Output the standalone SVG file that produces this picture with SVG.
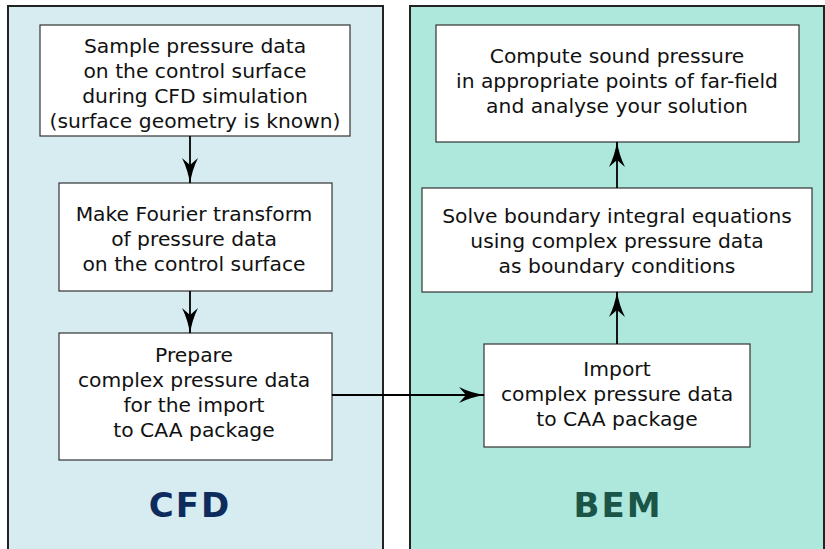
<svg xmlns="http://www.w3.org/2000/svg" width="825" height="549" viewBox="0 0 825 549">
<defs>
<style>
.panel{stroke:#222;stroke-width:2}
.box{fill:#fff;stroke:#333;stroke-width:1.2}
.t{font-family:"DejaVu Sans",sans-serif;font-size:20.3px;fill:#111;text-anchor:middle}
.lbl{font-family:"DejaVu Sans",sans-serif;font-weight:bold;font-size:34px;text-anchor:middle;letter-spacing:2px}
.c{stroke:#000;stroke-width:1.8;fill:none;marker-end:url(#ah)}
</style>
<marker id="ah" markerWidth="26" markerHeight="16" refX="25" refY="8" orient="auto" markerUnits="userSpaceOnUse">
<path d="M0,0 Q12,6 26,8 Q12,10 0,16 L7,8 Z" fill="#000"/>
</marker>
</defs>
<rect width="825" height="549" fill="#fff"/>
<g id="panel-cfd">
<rect class="panel" x="8" y="6" width="375" height="560" fill="#d6ecf1"/>
<text class="lbl" x="190" y="517" fill="#0d2b5c">CFD</text>
</g>
<g id="panel-bem">
<rect class="panel" x="410" y="6" width="414" height="560" fill="#aee7dc"/>
<text class="lbl" x="618" y="517" fill="#1a5548">BEM</text>
</g>
<g id="n1">
<rect class="box" x="40" y="25" width="310" height="111"/>
<text class="t" x="195" y="53">Sample pressure data</text>
<text class="t" x="195" y="78">on the control surface</text>
<text class="t" x="195" y="103">during CFD simulation</text>
<text class="t" x="195" y="128">(surface geometry is known)</text>
</g>
<g id="n2">
<rect class="box" x="59" y="183" width="273" height="108"/>
<text class="t" x="194" y="221">Make Fourier transform</text>
<text class="t" x="194" y="246">of pressure data</text>
<text class="t" x="194" y="271">on the control surface</text>
</g>
<g id="n3">
<rect class="box" x="59" y="333" width="273" height="127"/>
<text class="t" x="194" y="362">Prepare</text>
<text class="t" x="194" y="387">complex pressure data</text>
<text class="t" x="194" y="412">for the import</text>
<text class="t" x="194" y="437">to CAA package</text>
</g>
<g id="n4">
<rect class="box" x="484" y="344" width="266" height="103"/>
<text class="t" x="617" y="376">Import</text>
<text class="t" x="617" y="401">complex pressure data</text>
<text class="t" x="617" y="426">to CAA package</text>
</g>
<g id="n5">
<rect class="box" x="422" y="188" width="390" height="104"/>
<text class="t" x="617" y="223">Solve boundary integral equations</text>
<text class="t" x="617" y="248">using complex pressure data</text>
<text class="t" x="617" y="273">as boundary conditions</text>
</g>
<g id="n6">
<rect class="box" x="436" y="25" width="363" height="117"/>
<text class="t" x="617" y="63">Compute sound pressure</text>
<text class="t" x="617" y="88">in appropriate points of far-field</text>
<text class="t" x="617" y="113">and analyse your solution</text>
</g>
<g id="connectors">
<path class="c" d="M190,136 L190,183"/>
<path class="c" d="M190,291 L190,333"/>
<path class="c" d="M332,395 L484,395"/>
<path class="c" d="M617,344 L617,292"/>
<path class="c" d="M617,188 L617,142"/>
</g>
</svg>
